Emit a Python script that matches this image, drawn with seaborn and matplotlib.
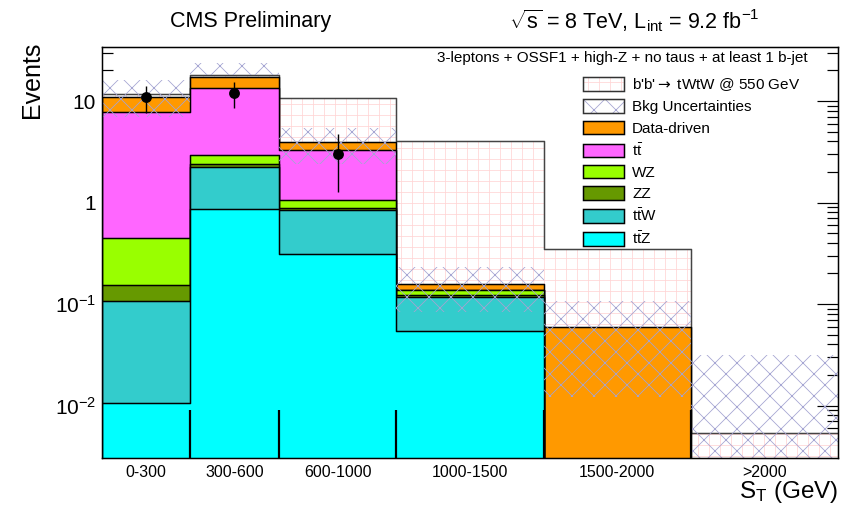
import matplotlib
matplotlib.use("Agg")
import numpy as np
import pandas as pd
import matplotlib.pyplot as plt
import seaborn as sns
from matplotlib.patches import Patch
from matplotlib.legend_handler import HandlerTuple
from matplotlib.ticker import FixedLocator, FixedFormatter, LogLocator, NullFormatter

# ---------------- data ----------------
bin_labels = ["0-300", "300-600", "600-1000", "1000-1500", "1500-2000", ">2000"]
bin_edges = [0, 300, 600, 1000, 1500, 2000, 2500]

# per-component yields, stacking order bottom -> top
ttZ = [0.0107, 0.86, 0.31, 0.0544, 0.0, 0.0]
ttW = [0.097, 1.40, 0.54, 0.064, 0.0, 0.0]
ZZ = [0.046, 0.13, 0.032, 0.0046, 0.0, 0.0]
WZ = [0.295, 0.58, 0.18, 0.016, 0.0, 0.0]
ttbar = [7.33, 10.6, 2.24, 0.0, 0.0, 0.0]
data_driven = [3.3, 3.6, 0.69, 0.018, 0.060, 0.0]

# signal drawn stacked on top of the background (total height)
signal_total = [11.6, 18.1, 10.7, 4.06, 0.35, 0.0054]

# background uncertainty band
unc_low = [7.0, 18.1, 2.4, 0.084, 0.0122, 0.0]
unc_high = [16.2, 23.5, 5.45, 0.234, 0.108, 0.0316]

# observed data
data_bins = ["0-300", "300-600", "600-1000"]
data_y = [11.0, 12.0, 3.0]
data_low = [7.7, 8.5, 1.28]
data_high = [14.2, 15.4, 4.72]

# short histogram-edge stubs at the bottom of the frame
edge_stub_top = 0.009

# ---------------- style ----------------
DPI = 132
S = 100.0 / DPI          # sizes below are given for 100 dpi and rescaled
P = 0.72 * S             # pixel (at 100 dpi) -> points

sns.set_theme(style="ticks")
plt.rcParams["font.family"] = ["Liberation Sans", "DejaVu Sans"]
plt.rcParams["mathtext.fontset"] = "custom"
plt.rcParams["mathtext.rm"] = "Liberation Sans"
plt.rcParams["mathtext.it"] = "Liberation Sans:italic"
plt.rcParams["mathtext.bf"] = "Liberation Sans:bold"
plt.rcParams["mathtext.sf"] = "DejaVu Sans"
plt.rcParams["mathtext.default"] = "regular"
plt.rcParams["text.color"] = "black"
plt.rcParams["axes.edgecolor"] = "black"
plt.rcParams["xtick.color"] = "black"
plt.rcParams["ytick.color"] = "black"
plt.rcParams["hatch.linewidth"] = 0.8 * P

C_DD = "#ff9900"
C_TT = "#ff66ff"
C_WZ = "#99ff00"
C_ZZ = "#669900"
C_TTW = "#33cccc"
C_TTZ = "#00ffff"
C_UNC = "#a4a4d2"
C_SIG = "#ffd6d6"
LW = 1.5 * P

fig = plt.figure(figsize=(850 / DPI, 512 / DPI), dpi=DPI)
ax = fig.add_axes([102 / 850, (512 - 458) / 512, (838 - 102) / 850, (458 - 46.7) / 512])
ax.set_yscale("log")

edges = np.array(bin_edges, dtype=float)
centers = 0.5 * (edges[:-1] + edges[1:])
widths = np.diff(edges)

# signal (behind the stack)
sns.histplot(x=centers, weights=signal_total, bins=bin_edges, element="step", fill=True,
             facecolor="white", edgecolor=C_SIG, hatch="++", linewidth=0, alpha=1,
             ax=ax, zorder=1)
sns.histplot(x=centers, weights=signal_total, bins=bin_edges, element="step", fill=False,
             color="#444444", linewidth=1.5 * P, ax=ax, zorder=1.5)

# stacked backgrounds
names = ["ttZ", "ttW", "ZZ", "WZ", "ttbar", "data_driven"]
comps = [ttZ, ttW, ZZ, WZ, ttbar, data_driven]
colors = [C_TTZ, C_TTW, C_ZZ, C_WZ, C_TT, C_DD]
cum = np.cumsum(np.array(comps), axis=0)
for i in range(len(comps) - 1, -1, -1):
    sns.histplot(x=centers, weights=cum[i], bins=bin_edges, element="step", fill=True,
                 color=colors[i], edgecolor="black", linewidth=LW, alpha=1,
                 ax=ax, zorder=2 + (len(comps) - i) * 0.01)

# uncertainty band
lo = np.array(unc_low)
hi = np.array(unc_high)
ax.bar(edges[:-1], hi - lo, bottom=lo, width=widths, align="edge", facecolor="none",
       edgecolor=C_UNC, linewidth=0, hatch="xx", zorder=3)

# edge stubs at the bottom of the frame
ax.vlines(edges[1:-1], 0.00304, edge_stub_top, color="black", linewidth=2.2 * P, zorder=4)

# data
dx = [centers[bin_labels.index(b)] for b in data_bins]
dy = np.array(data_y)
ax.errorbar(dx, dy, yerr=[dy - np.array(data_low), np.array(data_high) - dy], fmt="o",
            color="black", ms=9 * P, elinewidth=1.4 * P, capsize=0, zorder=5)

# ---------------- axes ----------------
ax.set_xlim(0, 2500)
ax.set_ylim(0.00304, 34.3)
ax.set_xlabel("")
ax.set_ylabel("")
ax.set_xticks(centers)
ax.set_xticklabels(bin_labels, fontsize=11.5 * S)
ax.tick_params(axis="x", length=0, pad=7 * P)
ax.yaxis.set_major_locator(FixedLocator([0.01, 0.1, 1, 10]))
ax.yaxis.set_major_formatter(FixedFormatter(["10$^{-2}$", "10$^{-1}$", "1", "10"]))
ax.yaxis.set_minor_locator(LogLocator(base=10, subs=np.arange(2, 10), numticks=30))
ax.yaxis.set_minor_formatter(NullFormatter())
ax.tick_params(axis="y", which="major", direction="in", length=21 * P, width=1.2 * P,
               right=True, labelsize=15 * S, pad=6 * P)
ax.tick_params(axis="y", which="minor", direction="in", length=11 * P, width=1.2 * P,
               right=True)
for sp in ax.spines.values():
    sp.set_visible(True)
    sp.set_linewidth(1.5 * P)
    sp.set_zorder(10)

# ---------------- legend ----------------
h_sig = (Patch(facecolor="white", edgecolor=C_SIG, hatch="++", linewidth=0),
         Patch(facecolor="none", edgecolor="#333333", linewidth=LW))
h_unc = (Patch(facecolor="white", edgecolor=C_UNC, hatch="xx", linewidth=0),
         Patch(facecolor="none", edgecolor="#333333", linewidth=LW))
handles = [h_sig, h_unc] + [Patch(facecolor=c, edgecolor="black", linewidth=LW)
                            for c in [C_DD, C_TT, C_WZ, C_ZZ, C_TTW, C_TTZ]]
labels = ["b'b'$\\mathsf{\\rightarrow}$ tWtW @ 550 GeV", "Bkg Uncertainties", "Data-driven",
          "t$\\bar{t}$", "WZ", "ZZ", "t$\\bar{t}$W", "t$\\bar{t}$Z"]
ax.legend(handles, labels, handler_map={tuple: HandlerTuple(ndivide=1, pad=0)},
          loc="upper left", bbox_to_anchor=(0.6535, 0.928), frameon=False,
          borderpad=0, borderaxespad=0, handlelength=2.66, handleheight=1.0,
          handletextpad=0.55, labelspacing=0.4, fontsize=11 * S)

# ---------------- texts ----------------
ax.text(0.959, 0.972, "3-leptons + OSSF1 + high-Z + no taus + at least 1 b-jet",
        transform=ax.transAxes, ha="right", va="center", fontsize=11 * S, zorder=12)
fig.text(251 / 850, 1 - 22 / 512, "CMS Preliminary", ha="center", va="center",
         fontsize=15.5 * S)
fig.text(634 / 850, 1 - 21 / 512,
         "$\\sqrt{s}$ = 8 TeV, L$_{int}$ = 9.2 fb$^{-1}$",
         ha="center", va="center", fontsize=15.5 * S)
fig.text(838 / 850, 1 - 492 / 512, "S$_T$ (GeV)", ha="right", va="center",
         fontsize=17.5 * S)
fig.text(32 / 850, 1 - 42 / 512, "Events", rotation=90, ha="center", va="top",
         fontsize=18 * S)

fig.savefig("out.png", dpi=DPI)
